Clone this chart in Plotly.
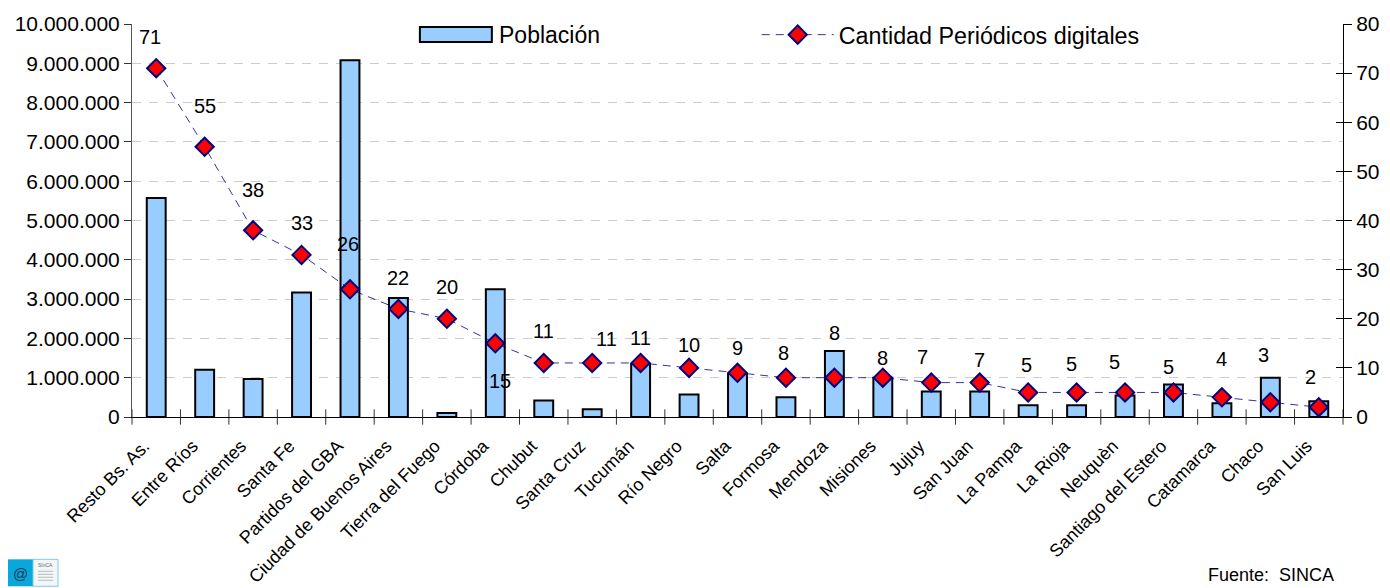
import plotly.graph_objects as go

categories = ["Resto Bs. As.", "Entre Ríos", "Corrientes", "Santa Fe", "Partidos del GBA",
              "Ciudad de Buenos Aires", "Tierra del Fuego", "Córdoba", "Chubut", "Santa Cruz",
              "Tucumán", "Río Negro", "Salta", "Formosa", "Mendoza", "Misiones", "Jujuy",
              "San Juan", "La Pampa", "La Rioja", "Neuquèn", "Santiago del Estero",
              "Catamarca", "Chaco", "San Luis"]
poblacion = [5570000, 1200000, 970000, 3170000, 9080000, 3030000, 100000, 3250000, 420000, 200000,
             1350000, 570000, 1100000, 500000, 1680000, 1000000, 650000, 650000, 300000, 300000,
             550000, 830000, 350000, 1000000, 400000]
periodicos = [71, 55, 38, 33, 26, 22, 20, 15, 11, 11, 11, 10, 9, 8, 8, 8, 7, 7, 5, 5, 5, 5, 4, 3, 2]

# hand placement of the data labels, in pixels relative to each marker
label_dx = [-6, 0, 0, 0, -2, 0, 0, 5, 0, 14, 0, 0, 0, -2, 0, 0, -9, 0, -2, -5, -11, -5, 0, -7, -8]
label_dy = [31, 41, 40, 32, 45, 31, 32, -38, 32, 24, 25, 23, 25, 25, 45, 20, 26, 23, 27, 28, 30, 25, 38, 47, 30]

# the page has an 8px body margin, so the figure is sized and placed to allow for it
PAGE = 8
W, H = 1390, 588
L, R, T, B = 132, 1343.5, 24, 417.5
FONT = "Liberation Sans, Arial, sans-serif"


def px(x):
    return (x - L) / (R - L)


def py(y):
    return (B - y) / (B - T)


n = len(categories)
idx = list(range(n))
xr = [-0.5, n - 0.5]
boundaries = [i - 0.5 for i in range(n + 1)]
left_ticks = list(range(0, 10000001, 1000000))
grid_ticks = left_ticks[1:-1]
right_ticks = list(range(0, 81, 10))

fig = go.Figure()
fig.add_trace(go.Bar(x=idx, y=poblacion, name="Población", width=0.39, showlegend=False,
                     marker=dict(color="#99CCFF", line=dict(color="black", width=2)),
                     xaxis="x", yaxis="y"))
# empty traces that switch on the helper axes (labels, tick marks and guide lines)
for xa, ya in (("x2", "y"), ("x", "y3"), ("x", "y4")):
    fig.add_trace(go.Scatter(x=[None], y=[None], xaxis=xa, yaxis=ya, showlegend=False,
                             hoverinfo="skip", mode="lines"))
# tick marks at the category boundaries, crossing the bottom axis line
fig.add_trace(go.Scatter(x=boundaries, y=[0] * len(boundaries), mode="markers", xaxis="x", yaxis="y",
                         showlegend=False, hoverinfo="skip", cliponaxis=False,
                         marker=dict(symbol="line-ns", size=11, color="#333333",
                                     line=dict(color="#333333", width=1))))
fig.add_trace(go.Scatter(x=idx, y=periodicos, name="Cantidad Periódicos digitales",
                         mode="lines+markers", xaxis="x", yaxis="y2",
                         line=dict(color="#000080", width=0.8, dash="8px,6px"),
                         marker=dict(symbol="diamond", size=14, color="#FF0000",
                                     line=dict(color="#000080", width=2))))

annotations = [dict(x=i, y=v, xref="x", yref="y2", text=str(v), showarrow=False,
                    xshift=dx, yshift=dy, font=dict(family=FONT, size=20, color="black"))
               for i, v, dx, dy in zip(idx, periodicos, label_dx, label_dy)]
annotations += [
    dict(x=px(497), y=py(35), xref="paper", yref="paper", xanchor="left", yanchor="middle",
         text="Población", showarrow=False, font=dict(family=FONT, size=23, color="black")),
    dict(x=px(1206), y=py(576), xref="paper", yref="paper", xanchor="left", yanchor="middle",
         text="Fuente:  SINCA", showarrow=False, font=dict(family=FONT, size=18, color="black")),
    dict(x=px(20), y=py(574), xref="paper", yref="paper", xanchor="center", yanchor="middle",
         text="@", showarrow=False, font=dict(family=FONT, size=15, color="#123a55")),
    dict(x=px(45), y=py(566), xref="paper", yref="paper", xanchor="center", yanchor="middle",
         text="SInCA", showarrow=False, font=dict(family=FONT, size=5, color="#666666")),
]

shapes = [
    # wide legend swatch for the bar series
    dict(type="rect", xref="paper", yref="paper", x0=px(420), x1=px(492), y0=py(27), y1=py(42),
         fillcolor="#99CCFF", line=dict(color="black", width=2), layer="above"),
    # source logo
    dict(type="rect", xref="paper", yref="paper", x0=px(7), x1=px(33), y0=py(560), y1=py(587),
         fillcolor="#0AA7DC", line=dict(width=0)),
    dict(type="rect", xref="paper", yref="paper", x0=px(33), x1=px(58), y0=py(560), y1=py(587),
         fillcolor="#F2F6F8", line=dict(color="#7CCBE6", width=1)),
]
for ly in (572, 575, 578, 581):
    shapes.append(dict(type="line", xref="paper", yref="paper", x0=px(38), x1=px(53),
                       y0=py(ly), y1=py(ly), line=dict(color="#BBBBBB", width=1)))

fig.update_layout(
    width=W - PAGE, height=H - PAGE, autosize=False,
    margin=dict(l=L - PAGE, r=W - R, t=T - PAGE, b=H - B, pad=0, autoexpand=False),
    paper_bgcolor="white", plot_bgcolor="white",
    font=dict(family=FONT, size=21, color="black"),
    separators=",.",
    annotations=annotations, shapes=shapes,
    legend=dict(orientation="h", x=px(757), y=py(35), xanchor="left", yanchor="middle",
                itemwidth=72, bgcolor="rgba(0,0,0,0)",
                font=dict(family=FONT, size=23.3), itemclick=False, itemdoubleclick=False),
    xaxis=dict(range=xr, tickmode="array", tickvals=boundaries, showticklabels=False,
               ticks="", showgrid=False, zeroline=False, showline=True, linecolor="black",
               linewidth=1, automargin=False, anchor="y"),
    # category labels
    xaxis2=dict(range=xr, overlaying="x", anchor="y", side="bottom", tickmode="array",
                tickvals=idx, ticktext=categories, tickangle=-45, ticks="", ticklen=0,
                showgrid=False, zeroline=False, showline=False, automargin=False,
                ticklabelstandoff=14, ticklabelshift=-12,
                tickfont=dict(family=FONT, size=18)),
    yaxis=dict(range=[0, 10000000], tickmode="array", tickvals=left_ticks, tickformat=",d",
               ticks="outside", ticklen=7, tickcolor="#333333", showgrid=False, zeroline=False,
               showline=True, linecolor="#555555", linewidth=1, automargin=False, anchor="x",
               tickfont=dict(family=FONT, size=21)),
    yaxis2=dict(range=[0, 80], overlaying="y", side="right", anchor="x", tickmode="array",
                tickvals=right_ticks, ticks="outside", ticklen=8, tickcolor="black",
                showgrid=False, zeroline=False, showline=True, linecolor="black", linewidth=1,
                automargin=False, tickfont=dict(family=FONT, size=21)),
    yaxis3=dict(range=[0, 80], overlaying="y", side="right", anchor="x", tickmode="array",
                tickvals=right_ticks, showticklabels=False, ticks="inside", ticklen=7,
                tickcolor="black", showgrid=False, zeroline=False, showline=False),
    # dashed guide lines only at the inner left-axis values
    yaxis4=dict(range=[0, 10000000], overlaying="y", side="left", anchor="x", tickmode="array",
                tickvals=grid_ticks, showticklabels=False, ticks="", showgrid=True,
                gridcolor="#CCCCCC", griddash="9px,8px", gridwidth=1, zeroline=False, showline=False),
)

fig.write_html("out.html")
